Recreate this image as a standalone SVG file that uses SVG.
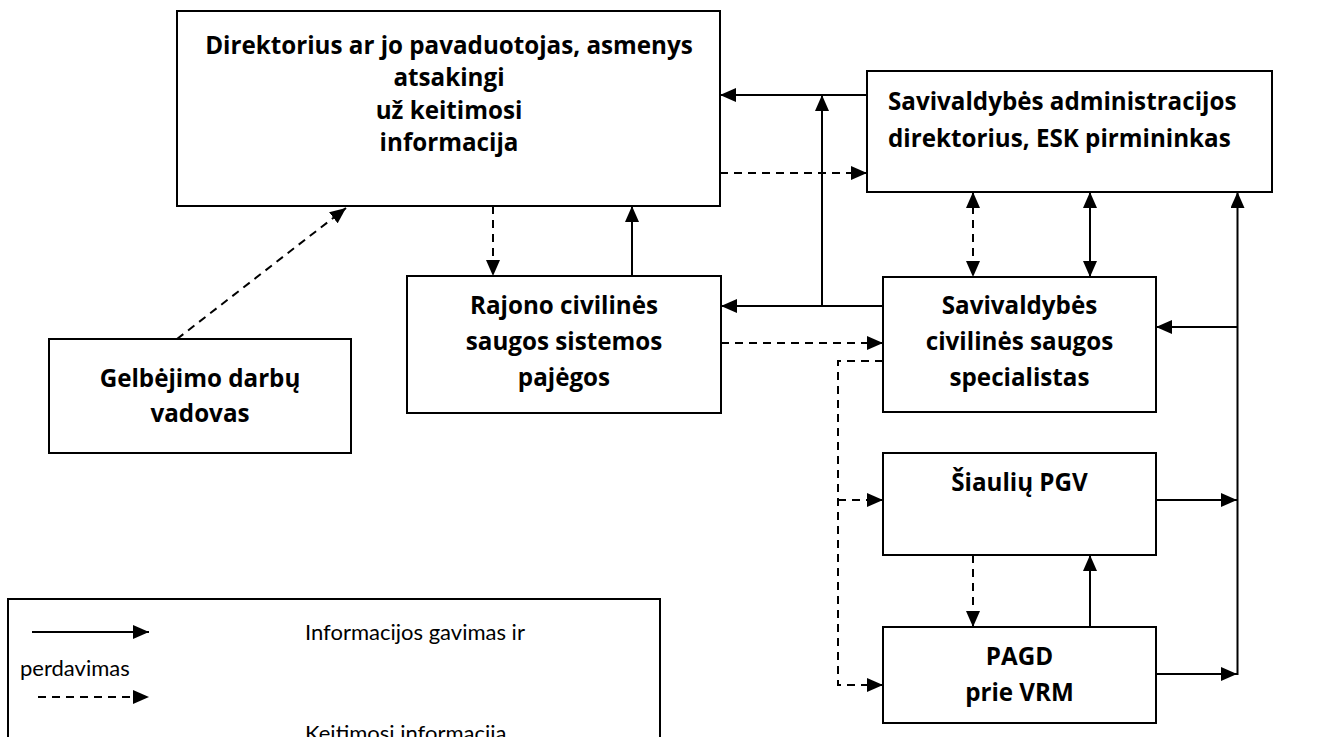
<svg xmlns="http://www.w3.org/2000/svg" width="1333" height="737" viewBox="0 0 1333 737">
<defs>
<style>
.box{fill:#fff;stroke:#000;stroke-width:2}
.t{font-family:"Open Sans","Liberation Sans",sans-serif;font-weight:bold;font-size:24.2px;fill:#000;text-anchor:middle}
.tl{font-family:"Open Sans","Liberation Sans",sans-serif;font-weight:bold;font-size:24.2px;fill:#000}
.lg{font-family:Lato,"Liberation Sans",sans-serif;font-size:22px;fill:#000}
.s{fill:none;stroke:#000;stroke-width:2}
.d{fill:none;stroke:#000;stroke-width:2;stroke-dasharray:8 6}
</style>
<marker id="ah" markerUnits="userSpaceOnUse" markerWidth="16" markerHeight="14" refX="16" refY="7" orient="auto-start-reverse" viewBox="0 0 16 14">
<path d="M0,0 L16,7 L0,14 z" fill="#000"/>
</marker>
</defs>
<rect width="1333" height="737" fill="#fff"/>

<g id="connectors">
<line class="s" x1="867" y1="95" x2="720" y2="95" marker-end="url(#ah)"/>
<line class="s" x1="822" y1="306" x2="822" y2="95" marker-end="url(#ah)"/>
<line class="s" x1="883" y1="306" x2="721" y2="306" marker-end="url(#ah)"/>
<line class="d" x1="720" y1="173" x2="867" y2="173" marker-end="url(#ah)"/>
<line class="d" x1="493" y1="206" x2="493" y2="276" marker-end="url(#ah)"/>
<line class="s" x1="632" y1="276" x2="632" y2="206" marker-end="url(#ah)"/>
<line class="d" x1="973" y1="192" x2="973" y2="277" marker-start="url(#ah)" marker-end="url(#ah)"/>
<line class="s" x1="1090" y1="192" x2="1090" y2="277" marker-start="url(#ah)" marker-end="url(#ah)"/>
<line class="s" x1="1237.5" y1="675" x2="1237.5" y2="192" marker-end="url(#ah)"/>
<line class="s" x1="1237.5" y1="327" x2="1156" y2="327" marker-end="url(#ah)"/>
<line class="s" x1="1156" y1="500" x2="1237" y2="500" marker-end="url(#ah)"/>
<line class="s" x1="1156" y1="674" x2="1237" y2="674" marker-end="url(#ah)"/>
<line class="d" x1="721" y1="343" x2="883" y2="343" marker-end="url(#ah)"/>
<polyline class="d" points="883,361 838,361 838,685 883,685" marker-end="url(#ah)"/>
<line class="d" x1="838" y1="500" x2="883" y2="500" marker-end="url(#ah)"/>
<line class="d" x1="973" y1="555" x2="973" y2="627" marker-end="url(#ah)"/>
<line class="s" x1="1090" y1="627" x2="1090" y2="555" marker-end="url(#ah)"/>
<line class="d" x1="177" y1="339" x2="346" y2="208" marker-end="url(#ah)"/>
</g>

<g id="n-direktorius">
<rect class="box" x="177" y="11" width="543" height="195"/>
<text class="t" x="449" y="54">Direktorius ar jo pavaduotojas, asmenys</text>
<text class="t" x="449" y="86">atsakingi</text>
<text class="t" x="449" y="119">už keitimosi</text>
<text class="t" x="449" y="151">informacija</text>
</g>

<g id="n-admin">
<rect class="box" x="867" y="71" width="405" height="121"/>
<text class="tl" x="888" y="110">Savivaldybės administracijos</text>
<text class="tl" x="888" y="147">direktorius, ESK pirmininkas</text>
</g>

<g id="n-rajono">
<rect class="box" x="407" y="276" width="314" height="137"/>
<text class="t" x="564" y="314">Rajono civilinės</text>
<text class="t" x="564" y="350">saugos sistemos</text>
<text class="t" x="564" y="386">pajėgos</text>
</g>

<g id="n-specialistas">
<rect class="box" x="883" y="277" width="273" height="135"/>
<text class="t" x="1019.5" y="314">Savivaldybės</text>
<text class="t" x="1019.5" y="350">civilinės saugos</text>
<text class="t" x="1019.5" y="386">specialistas</text>
</g>

<g id="n-gelbejimo">
<rect class="box" x="49" y="339" width="302" height="114"/>
<text class="t" x="200" y="387">Gelbėjimo darbų</text>
<text class="t" x="200" y="422">vadovas</text>
</g>

<g id="n-pgv">
<rect class="box" x="883" y="453" width="273" height="102"/>
<text class="t" x="1019.5" y="491">Šiaulių PGV</text>
</g>

<g id="n-pagd">
<rect class="box" x="883" y="627" width="273" height="96"/>
<text class="t" x="1019.5" y="665">PAGD</text>
<text class="t" x="1019.5" y="701">prie VRM</text>
</g>

<g id="legend">
<rect class="box" x="8" y="599" width="652" height="160"/>
<line class="s" x1="32" y1="632" x2="149" y2="632" marker-end="url(#ah)"/>
<text class="lg" x="305" y="640">Informacijos gavimas ir</text>
<text class="lg" x="20" y="676">perdavimas</text>
<line class="d" x1="38" y1="697" x2="149" y2="697" marker-end="url(#ah)"/>
<text class="lg" x="305" y="741">Keitimosi informacija</text>
</g>
</svg>
